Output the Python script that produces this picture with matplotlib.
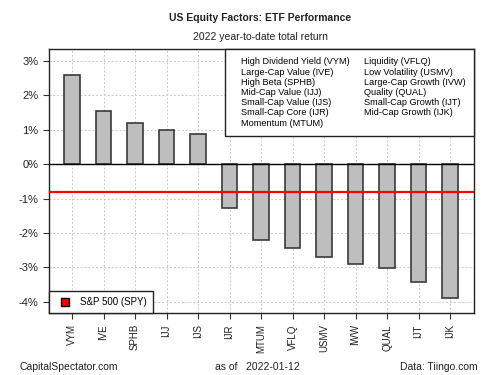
import numpy as np
import matplotlib.pyplot as plt
from matplotlib.lines import Line2D

plt.rcParams['font.family'] = ['Liberation Sans', 'DejaVu Sans']

tickers = ['VYM', 'IVE', 'SPHB', 'IJJ', 'IJS', 'IJR', 'MTUM', 'VFLQ',
           'USMV', 'IWW', 'QUAL', 'IJT', 'IJK']
returns = [2.59, 1.54, 1.19, 0.99, 0.87, -1.28, -2.21, -2.43,
           -2.70, -2.89, -3.01, -3.43, -3.89]
spy_return = -0.81
legend_names = ['High Dividend Yield (VYM)', 'Large-Cap Value (IVE)', 'High Beta (SPHB)',
                'Mid-Cap Value (IJJ)', 'Small-Cap Value (IJS)', 'Small-Cap Core (IJR)',
                'Momentum (MTUM)', 'Liquidity (VFLQ)', 'Low Volatility (USMV)',
                'Large-Cap Growth (IVW)', 'Quality (QUAL)', 'Small-Cap Growth (IJT)',
                'Mid-Cap Growth (IJK)']
yticks = [3, 2, 1, 0, -1, -2, -3, -4]

fig = plt.figure(figsize=(5, 3.75), dpi=100)
ax = fig.add_axes([0.098, 0.165, 0.85, 0.704])

x = np.arange(len(tickers))
ax.set_axisbelow(True)
ax.grid(True, color='#c8c8c8', linestyle=(0, (2, 2)), linewidth=0.7)
ax.bar(x, returns, width=0.5, color='#bebebe', edgecolor='#3a3a3a', linewidth=1.2, zorder=2)
ax.axhline(0, color='black', linewidth=1.0, zorder=3)
ax.axhline(spy_return, color='red', linewidth=1.6, zorder=3)

ax.set_xlim(-0.73, len(tickers) - 1 + 0.76)
ax.set_ylim(-4.33, 3.34)
ax.set_xticks(x)
ax.set_xticklabels(tickers, rotation=90, fontsize=7, color='#222222')
ax.set_yticks(yticks)
ax.set_yticklabels([f'{v}%' for v in yticks], fontsize=8, color='#222222')
ax.tick_params(axis='both', direction='out', length=4, width=0.8, color='#333333')
ax.tick_params(axis='x', pad=4)
for s in ax.spines.values():
    s.set_linewidth(1.0)
    s.set_color('#222222')

# legend of factor names, two columns, empty handle space like the original
handles = [Line2D([], [], linestyle='none') for _ in legend_names]
leg1 = ax.legend(handles, legend_names, ncol=2, loc='upper right', fontsize=6.6,
                 handlelength=0.8, handletextpad=0, columnspacing=0.8,
                 labelspacing=0.13, frameon=True, fancybox=False, framealpha=1,
                 edgecolor='#222222', borderpad=0.9, borderaxespad=0)
leg1.get_frame().set_linewidth(1.0)
ax.add_artist(leg1)

spy_handle = Line2D([], [], marker='s', markersize=6, markerfacecolor='red',
                    markeredgecolor='black', linestyle='none')
leg2 = ax.legend([spy_handle], ['S&P 500 (SPY)'], loc='lower left', fontsize=7,
                 frameon=True, fancybox=False, framealpha=1, edgecolor='#222222',
                 borderaxespad=0, handletextpad=0.6, borderpad=0.6)
leg2.get_frame().set_linewidth(1.0)

fig.text(0.52, 0.952, 'US Equity Factors: ETF Performance', ha='center', va='center',
         fontsize=7.5, fontweight='bold', color='#222222')
fig.text(0.52, 0.902, '2022 year-to-date total return', ha='center', va='center',
         fontsize=7.5, color='#222222')
fig.text(0.04, 0.022, 'CapitalSpectator.com', ha='left', va='center', fontsize=7.5, color='#222222')
fig.text(0.43, 0.022, 'as of   2022-01-12', ha='left', va='center', fontsize=7.5, color='#222222')
fig.text(0.956, 0.022, 'Data: Tiingo.com', ha='right', va='center', fontsize=7.5, color='#222222')

fig.savefig('out.png', dpi=100)
